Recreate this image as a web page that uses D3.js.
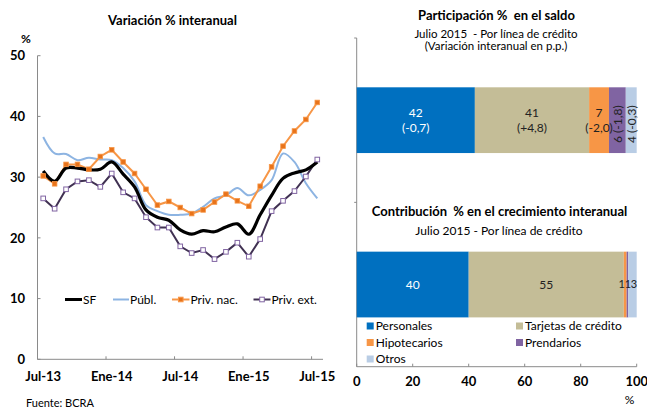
<!DOCTYPE html>
<html><head><meta charset="utf-8">
<script src="https://cdn.jsdelivr.net/npm/d3@7/dist/d3.min.js"></script>
<style>body{margin:0;background:#fff}svg{display:block;font-family:Lato,"Open Sans",sans-serif}text{white-space:pre}</style>
</head><body><svg id="c" width="647" height="408"></svg>
<script>
// ---------- Left chart data ----------
const months = ["Jul-13","Ago-13","Sep-13","Oct-13","Nov-13","Dic-13","Ene-14","Feb-14","Mar-14","Abr-14","May-14","Jun-14","Jul-14","Ago-14","Sep-14","Oct-14","Nov-14","Dic-14","Ene-15","Feb-15","Mar-15","Abr-15","May-15","Jun-15","Jul-15"];
const tickMonths = ["Jul-13","Ene-14","Jul-14","Ene-15","Jul-15"];
const sf      = [31.0,29.3,31.5,31.5,31.2,31.3,32.5,30.5,28.4,24.6,23.4,22.9,21.3,20.6,21.2,21.0,21.8,22.3,20.6,23.8,27.0,29.8,30.7,31.2,32.5];
const publ    = [36.6,33.9,33.8,32.8,33.2,32.9,32.8,31.5,29.3,25.4,24.4,23.8,23.8,24.0,25.1,26.5,27.0,28.2,27.0,27.9,29.5,33.9,32.5,29.0,26.5];
const privNac = [30.2,28.9,32.1,32.1,31.3,33.4,34.5,32.5,30.6,28.0,25.4,26.0,25.0,24.0,24.6,25.9,27.2,26.1,25.2,28.5,31.7,35.1,37.6,39.5,42.3];
const privExt = [26.5,24.8,28.0,29.3,29.5,28.4,30.6,27.5,26.5,23.4,21.7,21.7,18.6,17.5,18.0,16.5,17.7,19.2,16.9,19.8,24.4,26.1,27.7,30.1,32.9];
const yTicksL = [0,10,20,30,40,50];
const seriesNames = ["SF","Públ.","Priv. nac.","Priv. ext."];

// ---------- Right chart data ----------
const creditLines = ["Personales","Tarjetas de crédito","Hipotecarios","Prendarios","Otros"];
const saldoShare  = [42.2,40.8,7.1,6.0,3.9];
const saldoChange = ["(-0,7)","(+4,8)","(-2,0)","(-1,8)","(-0,3)"];
const crecShare   = [40.0,55.4,1.0,0.6,3.0];
const barCats = ["saldo","crec"];
const xTicksR = [0,20,40,60,80,100];

const svg = d3.select("#c");
const axisCol = "#8a8a8a";

// ================= LEFT =================
const x = d3.scaleBand().domain(months).range([37.5, 323]).padding(0);
const y = d3.scaleLinear().domain([0,50]).range([359.3, 55.7]);
const cx = d => x(d) + x.bandwidth()/2;

const gL = svg.append("g");
gL.append("text").attr("x",172.5).attr("y",25).attr("text-anchor","middle")
  .attr("font-weight","bold").attr("font-size",13).text("Variación % interanual");
gL.append("text").attr("x",26).attr("y",43).attr("text-anchor","middle")
  .attr("font-weight","bold").attr("font-size",12).text("%");

// y axis
gL.append("line").attr("x1",37.5).attr("x2",37.5).attr("y1",y(50)).attr("y2",y(0)).attr("stroke",axisCol);
yTicksL.forEach(t=>{
  gL.append("line").attr("x1",37.5).attr("x2",40.5).attr("y1",y(t)).attr("y2",y(t)).attr("stroke",axisCol);
  gL.append("text").attr("x",25).attr("y",y(t)).attr("dy","0.36em").attr("text-anchor","end")
    .attr("font-weight","bold").attr("font-size",13).text(t);
});
// x axis
gL.append("line").attr("x1",37.5).attr("x2",323).attr("y1",y(0)).attr("y2",y(0)).attr("stroke",axisCol);
tickMonths.forEach(m=>{
  gL.append("line").attr("x1",x(m)).attr("x2",x(m)).attr("y1",y(0)).attr("y2",y(0)-3).attr("stroke",axisCol);
  gL.append("text").attr("x",cx(m)).attr("y",380.5).attr("text-anchor","middle")
    .attr("font-weight","bold").attr("font-size",13).text(m);
});

const lineSmooth = d3.line().x((d,i)=>cx(months[i])).y(d=>y(d)).curve(d3.curveCatmullRom.alpha(0.5));
const lineStraight = d3.line().x((d,i)=>cx(months[i])).y(d=>y(d));

gL.append("path").attr("d",lineSmooth(publ)).attr("fill","none").attr("stroke","#8DB4E2").attr("stroke-width",2);
gL.append("path").attr("d",lineStraight(privNac)).attr("fill","none").attr("stroke","#F79646").attr("stroke-width",2);
gL.append("path").attr("d",lineStraight(privExt)).attr("fill","none").attr("stroke","#403152").attr("stroke-width",2);
gL.append("path").attr("d",lineSmooth(sf)).attr("fill","none").attr("stroke","#000").attr("stroke-width",3.2);

const ms = 4.6;
gL.selectAll(".mn").data(privNac).enter().append("rect")
  .attr("x",(d,i)=>cx(months[i])-ms/2).attr("y",d=>y(d)-ms/2).attr("width",ms).attr("height",ms)
  .attr("fill","#E8731A").attr("stroke","#F79646").attr("stroke-width",0.8);
gL.selectAll(".me").data(privExt).enter().append("rect")
  .attr("x",(d,i)=>cx(months[i])-ms/2).attr("y",d=>y(d)-ms/2).attr("width",ms).attr("height",ms)
  .attr("fill","#fff").attr("stroke","#8064A2").attr("stroke-width",1);

// legend left
const legL = [
  {n:seriesNames[0], x0:65, x1:82, col:"#000", w:3, m:null},
  {n:seriesNames[1], x0:113, x1:129, col:"#8DB4E2", w:2, m:null},
  {n:seriesNames[2], x0:172, x1:189.5, col:"#F79646", w:2, m:"nac"},
  {n:seriesNames[3], x0:253.5, x1:270.5, col:"#403152", w:2, m:"ext"}
];
const ly = 299.5;
legL.forEach(l=>{
  gL.append("line").attr("x1",l.x0).attr("x2",l.x1).attr("y1",ly).attr("y2",ly).attr("stroke",l.col).attr("stroke-width",l.w);
  if(l.m){
    const mx=(l.x0+l.x1)/2;
    gL.append("rect").attr("x",mx-ms/2).attr("y",ly-ms/2).attr("width",ms).attr("height",ms)
      .attr("fill",l.m==="nac"?"#E8731A":"#fff").attr("stroke",l.m==="nac"?"#F79646":"#8064A2");
  }
  gL.append("text").attr("x",l.x1+1).attr("y",ly).attr("dy","0.35em").attr("font-size",12).text(l.n);
});

gL.append("text").attr("x",26).attr("y",407).attr("font-size",11).text("Fuente: BCRA");

// ================= RIGHT =================
const colors = ["#0070C0","#C4BD97","#F79646","#8064A2","#B9CDE5"];
const xr = d3.scaleLinear().domain([0,100]).range([356.7,636.7]);
const yr = d3.scaleBand().domain(barCats).range([38,366.7]).padding(0);
const bh = yr.bandwidth()*0.4;
const gR = svg.append("g");

gR.append("text").attr("x",496.5).attr("y",19.5).attr("text-anchor","middle").attr("font-weight","bold").attr("font-size",13).text("Participación %  en el saldo");
gR.append("text").attr("x",496).attr("y",37.5).attr("text-anchor","middle").attr("font-size",11.5).text("Julio 2015  - Por línea de crédito");
gR.append("text").attr("x",496).attr("y",50).attr("text-anchor","middle").attr("font-size",11.5).text("(Variación interanual en p.p.)");
gR.append("text").attr("x",499.5).attr("y",215.5).attr("text-anchor","middle").attr("font-weight","bold").attr("font-size",13).text("Contribución  % en el crecimiento interanual");
gR.append("text").attr("x",499).attr("y",234.5).attr("text-anchor","middle").attr("font-size",12).text("Julio 2015 - Por línea de crédito");

// axes
gR.append("line").attr("x1",xr(0)).attr("x2",xr(0)).attr("y1",38).attr("y2",366.7).attr("stroke",axisCol);
[38, yr("crec")].forEach(v=>gR.append("line").attr("x1",xr(0)-2.5).attr("x2",xr(0)).attr("y1",v).attr("y2",v).attr("stroke",axisCol));
gR.append("line").attr("x1",xr(0)).attr("x2",xr(100)).attr("y1",366.7).attr("y2",366.7).attr("stroke",axisCol);
xTicksR.forEach(t=>{
  gR.append("line").attr("x1",xr(t)).attr("x2",xr(t)).attr("y1",366.7).attr("y2",363.7).attr("stroke",axisCol);
  gR.append("text").attr("x",xr(t)).attr("y",386).attr("text-anchor","middle").attr("font-weight","bold").attr("font-size",13).text(t);
});
gR.append("text").attr("x",629.5).attr("y",404).attr("text-anchor","middle").attr("font-size",12).text("%");

function stack(vals){ let c=0; return vals.map(v=>{const s=c; c+=v; return [s,c];}); }

// top bar
const sTop = stack(saldoShare);
const yTop = yr("saldo") + yr.bandwidth()*0.3;
sTop.forEach((s,i)=>{
  gR.append("rect").attr("x",xr(s[0])).attr("y",yTop).attr("width",xr(s[1])-xr(s[0])).attr("height",bh).attr("fill",colors[i]);
});
sTop.forEach((s,i)=>{
  const mx = (xr(s[0])+xr(s[1]))/2, my = yTop+bh/2;
  const w = xr(s[1])-xr(s[0]);
  const col = i===0 ? "#fff" : "#222";
  if(w>18){
    const t = gR.append("text").attr("text-anchor","middle").attr("font-size",12).attr("fill",col);
    t.append("tspan").attr("x",mx).attr("y",my-7.5).attr("dy","0.35em").text(Math.round(saldoShare[i]));
    t.append("tspan").attr("x",mx).attr("y",my+8).attr("dy","0.35em").text(saldoChange[i]);
  } else {
    gR.append("text").attr("transform",`translate(${mx+0.5},${my+4}) rotate(-90)`).attr("dy","0.35em").attr("text-anchor","middle").attr("font-size",12).attr("fill",col)
      .text(Math.round(saldoShare[i])+" "+saldoChange[i]);
  }
});

// bottom bar
const sBot = stack(crecShare);
const yBot = yr("crec") + yr.bandwidth()*0.3;
sBot.forEach((s,i)=>{
  gR.append("rect").attr("x",xr(s[0])).attr("y",yBot).attr("width",xr(s[1])-xr(s[0])).attr("height",bh).attr("fill",colors[i]);
});
// small trailing segments: labels packed side by side ending at the last segment
const smallOffsets = {2:-12.2, 3:-6.1, 4:0};
sBot.forEach((s,i)=>{
  const my = yBot+bh/2;
  const col = i===0 ? "#fff" : "#222";
  let mx = (xr(s[0])+xr(s[1]))/2, fs = 12;
  if(i>=2){ const last = sBot[4]; mx = (xr(last[0])+xr(last[1]))/2 + 1.5 + smallOffsets[i]; fs = 11; }
  gR.append("text").attr("x",mx).attr("y",my).attr("dy","0.35em").attr("text-anchor","middle").attr("font-size",fs).attr("fill",col).text(Math.round(crecShare[i]));
});

// legend right
const legPos = [[366.7,326],[516,326],[366.7,342.5],[516,342.5],[366.7,359]];
creditLines.forEach((n,i)=>{
  const [lx,lyy] = legPos[i];
  gR.append("rect").attr("x",lx).attr("y",lyy-3.5).attr("width",7).attr("height",7).attr("fill",colors[i]);
  gR.append("text").attr("x",lx+9).attr("y",lyy).attr("dy","0.36em").attr("font-size",12).text(n);
});
</script></body></html>
